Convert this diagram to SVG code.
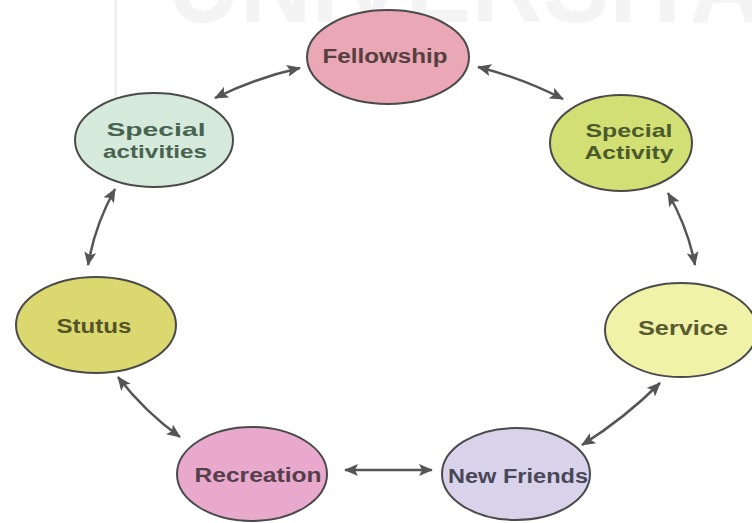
<svg xmlns="http://www.w3.org/2000/svg" width="752" height="523" viewBox="0 0 752 523">
  <defs>
    <marker id="head" viewBox="0 0 14 12" refX="13" refY="6" markerWidth="14" markerHeight="12" markerUnits="userSpaceOnUse" orient="auto-start-reverse">
      <path d="M0,0 L14,6 L0,12 L3,6 z" fill="#555"/>
    </marker>
    <style>
      .node ellipse { stroke: #4a4a4a; stroke-width: 2; }
      .node text { font-family: "Liberation Sans", Arial, sans-serif; font-weight: bold; font-size: 20px; text-anchor: middle; }
      .node text.two { font-size: 19px; }
      .link { fill: none; stroke: #555; stroke-width: 2.5; marker-start: url(#head); marker-end: url(#head); }
      .mark { font-family: "Liberation Sans", Arial, sans-serif; font-weight: bold; font-size: 110px; fill: #f4f4f4; }
    </style>
  </defs>

  <rect width="752" height="523" fill="#ffffff"/>

  <!-- faint background mark -->
  <g id="backdrop">
    <rect x="114" y="0" width="3" height="106" fill="#f0f0f0"/>
    <text class="mark" x="168" y="22" textLength="660" lengthAdjust="spacingAndGlyphs">UNIVERSITAS</text>
  </g>

  <g id="connectors">
    <path class="link" d="M215,98 Q255,78 300,68"/>
    <path class="link" d="M478,67 Q522,78 563,99"/>
    <path class="link" d="M115,189 Q95,225 88,265"/>
    <path class="link" d="M668,193 Q688,228 695,265"/>
    <path class="link" d="M660,383 Q625,418 582,445"/>
    <path class="link" d="M118,377 Q145,412 180,437"/>
    <path class="link" d="M345,470 L432,470"/>
  </g>

  <g id="fellowship" class="node">
    <ellipse cx="388" cy="57" rx="81" ry="47" fill="#eaa7b5"/>
    <text x="385" y="63" fill="#56403f" textLength="125" lengthAdjust="spacingAndGlyphs">Fellowship</text>
  </g>

  <g id="special-activities" class="node">
    <ellipse cx="154" cy="140" rx="79" ry="47" fill="#d6eadc"/>
    <text class="two" x="156" y="136" fill="#486450" textLength="99" lengthAdjust="spacingAndGlyphs">Special</text>
    <text class="two" x="155" y="158" fill="#486450" textLength="104" lengthAdjust="spacingAndGlyphs">activities</text>
  </g>

  <g id="special-activity" class="node">
    <ellipse cx="621" cy="143" rx="71" ry="48" fill="#d2df74"/>
    <text class="two" x="629" y="137" fill="#4a5a2a" textLength="87" lengthAdjust="spacingAndGlyphs">Special</text>
    <text class="two" x="629" y="159" fill="#4a5a2a" textLength="89" lengthAdjust="spacingAndGlyphs">Activity</text>
  </g>

  <g id="stutus" class="node">
    <ellipse cx="96" cy="325" rx="80" ry="48" fill="#dcd870"/>
    <text x="94" y="333" fill="#535529" textLength="75" lengthAdjust="spacingAndGlyphs">Stutus</text>
  </g>

  <g id="service" class="node">
    <ellipse cx="681" cy="330" rx="76" ry="47" fill="#f0f2a8"/>
    <text x="683" y="335" fill="#585a30" textLength="90" lengthAdjust="spacingAndGlyphs">Service</text>
  </g>

  <g id="recreation" class="node">
    <ellipse cx="252" cy="474" rx="75" ry="47" fill="#e8a9cd"/>
    <text x="258" y="482" fill="#553f4b" textLength="127" lengthAdjust="spacingAndGlyphs">Recreation</text>
  </g>

  <g id="new-friends" class="node">
    <ellipse cx="516" cy="474" rx="74" ry="46" fill="#d8d3ea"/>
    <text x="518" y="483" fill="#4a4856" textLength="140" lengthAdjust="spacingAndGlyphs">New Friends</text>
  </g>
</svg>
